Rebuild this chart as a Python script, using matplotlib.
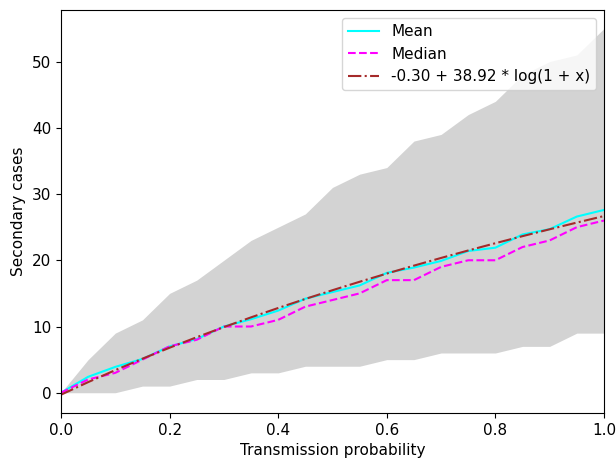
import matplotlib
matplotlib.use("Agg")
import matplotlib.pyplot as plt
import numpy as np

plt.rcParams['font.size'] = 11

# transmission probability grid
prob = [0.0, 0.05, 0.1, 0.15, 0.2, 0.25, 0.3, 0.35, 0.4, 0.45, 0.5,
        0.55, 0.6, 0.65, 0.7, 0.75, 0.8, 0.85, 0.9, 0.95, 1.0]

# secondary cases: mean, median and min/max envelope
mean_cases = [0.0, 2.4, 3.9, 5.1, 7.0, 8.1, 10.0, 11.1, 12.4, 14.2, 15.2,
              16.2, 18.1, 18.9, 19.9, 21.4, 21.9, 23.9, 24.7, 26.6, 27.6]
median_cases = [0, 2, 3, 5, 7, 8, 10, 10, 11, 13, 14,
                15, 17, 17, 19, 20, 20, 22, 23, 25, 26]
lower_cases = [0, 0, 0, 1, 1, 2, 2, 3, 3, 4, 4,
               4, 5, 5, 6, 6, 6, 7, 7, 9, 9]
upper_cases = [0, 5, 9, 11, 15, 17, 20, 23, 25, 27, 31,
               33, 34, 38, 39, 42, 44, 48, 50, 51, 55]

# log fit coefficients
fit_a = -0.30
fit_b = 38.92

x = np.array(prob)
fit = fit_a + fit_b * np.log(1 + x)

fig, ax = plt.subplots(figsize=(6.16, 4.62), dpi=100)

ax.fill_between(x, lower_cases, upper_cases, color='lightgray', linewidth=0)
ax.plot(x, mean_cases, color='cyan', label='Mean')
ax.plot(x, median_cases, color='magenta', linestyle='--', label='Median')
ax.plot(x, fit, color='brown', linestyle='-.',
        label='%.2f + %.2f * log(1 + x)' % (fit_a, fit_b))

ax.set_xlim(0, 1)
ax.set_xlabel('Transmission probability')
ax.set_ylabel('Secondary cases')
ax.legend(loc='upper right')

plt.subplots_adjust(left=0.099, right=0.9805, top=0.978, bottom=0.106)
plt.savefig('out.png')
